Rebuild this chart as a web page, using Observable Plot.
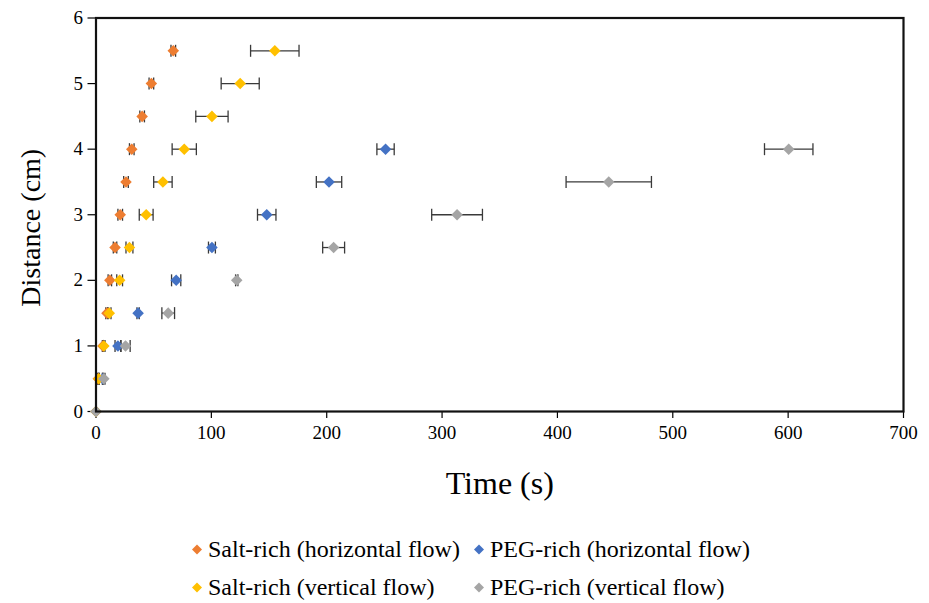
<!DOCTYPE html>
<html>
<head>
<meta charset="utf-8">
<script src="https://cdn.jsdelivr.net/npm/d3@7"></script>
<script src="https://cdn.jsdelivr.net/npm/@observablehq/plot@0.6"></script>
<style>
  html, body { margin: 0; padding: 0; background: #fff; }
  #wrap { position: relative; width: 929px; height: 603px; font-family: "Liberation Serif", "Times New Roman", serif; }
  #wrap svg text { font-family: "Liberation Serif", "Times New Roman", serif; }
  .legend { position: absolute; left: 0; top: 0; width: 929px; height: 603px; pointer-events: none; }
  .item { position: absolute; display: flex; align-items: center; font-size: 24px; color: #000; white-space: nowrap; transform: translateY(-50%); font-family: "Liberation Serif", "Times New Roman", serif; }
  .item svg { margin-right: 4px; }
</style>
</head>
<body>
<div id="wrap"></div>
<script>
// ---- Data ----
const seriesNames = [
  "Salt-rich (horizontal flow)",
  "PEG-rich (horizontal flow)",
  "Salt-rich (vertical flow)",
  "PEG-rich (vertical flow)"
];
const seriesColors = ["#ED7D31", "#4472C4", "#FFC000", "#A5A5A5"];

const saltHDistance = [0, 0.5, 1, 1.5, 2, 2.5, 3, 3.5, 4, 4.5, 5, 5.5];
const saltHTime     = [0, 2, 6, 9.5, 12, 16.5, 21, 26, 31, 40, 48, 67];
const saltHErr      = [0, 0.5, 0.5, 1, 1.5, 1.5, 2, 2, 2, 2, 2, 2];

const pegHDistance  = [0, 0.5, 1, 1.5, 2, 2.5, 3, 3.5, 4];
const pegHTime      = [0, 6, 19, 36.5, 69.5, 100.5, 148, 202, 251];
const pegHErr       = [0, 0.5, 2.5, 1, 4, 3, 8, 11, 7.5];

const saltVDistance = [0, 0.5, 1, 1.5, 2, 2.5, 3, 3.5, 4, 4.5, 5, 5.5];
const saltVTime     = [0, 2.4, 6.8, 11.5, 20.5, 29, 43.5, 58, 76.5, 100.5, 125, 155];
const saltVErr      = [0, 0.5, 1, 1.5, 2.5, 3, 6, 8, 10.5, 14, 16.5, 21];

const pegVDistance  = [0, 0.5, 1, 1.5, 2, 2.5, 3, 3.5, 4];
const pegVTime      = [0, 6.8, 25.6, 62.6, 122, 206, 313, 444.5, 600.5];
const pegVErr       = [0, 1, 4, 5.5, 1, 9.5, 22, 37, 21];

const xTicks = [0, 100, 200, 300, 400, 500, 600, 700];
const yTicks = [0, 1, 2, 3, 4, 5, 6];

// ---- Build table ----
const raw = [
  [saltHDistance, saltHTime, saltHErr],
  [pegHDistance, pegHTime, pegHErr],
  [saltVDistance, saltVTime, saltVErr],
  [pegVDistance, pegVTime, pegVErr]
];
const rows = [];
raw.forEach(([ds, ts, es], si) => {
  ds.forEach((d, i) => rows.push({series: seriesNames[si], order: si, distance: d, time: ts[i], err: es[i]}));
});
const errRows = rows.filter(r => r.err > 0);

// vertical cap symbol for error bars
const capSymbol = {
  draw(ctx, size) {
    const h = Math.sqrt(size / Math.PI);
    ctx.moveTo(0, -h);
    ctx.lineTo(0, h);
  }
};

const serif = "'Liberation Serif', 'Times New Roman', serif";

const chart = Plot.plot({
  width: 929,
  height: 520,
  marginLeft: 95.5,
  marginRight: 26,
  marginTop: 17.5,
  marginBottom: 109,
  style: {fontFamily: serif, fontSize: "19px", color: "#000", background: "#fff"},
  x: {domain: [0, 700]},
  y: {domain: [0, 6]},
  color: {domain: seriesNames, range: seriesColors},
  marks: [
    Plot.axisX({ticks: xTicks, tickFormat: "d", tickSize: 7, tickPadding: 7, label: null, stroke: "#000", strokeWidth: 1.2, fontSize: 19, fontFamily: serif}),
    Plot.axisY({ticks: yTicks, tickFormat: "d", tickSize: 8, tickPadding: 5, label: null, stroke: "#000", strokeWidth: 1.2, fontSize: 19, fontFamily: serif}),
    // error bars
    Plot.link(errRows, {x1: d => d.time - d.err, x2: d => d.time + d.err, y1: "distance", y2: "distance", stroke: "#3a3a3a", strokeWidth: 1.3}),
    Plot.dot(errRows, {x: d => d.time - d.err, y: "distance", symbol: capSymbol, r: 6, stroke: "#3a3a3a", strokeWidth: 1.3, fill: "none"}),
    Plot.dot(errRows, {x: d => d.time + d.err, y: "distance", symbol: capSymbol, r: 6, stroke: "#3a3a3a", strokeWidth: 1.3, fill: "none"}),
    // markers
    Plot.dot(rows, {x: "time", y: "distance", fill: "series", symbol: "diamond2", r: 5.2, stroke: null}),
    Plot.frame({stroke: "#111", strokeWidth: 2.2}),
    Plot.text(["Time (s)"], {frameAnchor: "bottom", dy: 72, fontSize: 32, fontFamily: serif, textAnchor: "middle", lineAnchor: "middle", fill: "#000"}),
    Plot.text(["Distance (cm)"], {frameAnchor: "left", dx: -65, dy: 13, rotate: -90, fontSize: 28, fontFamily: serif, textAnchor: "middle", lineAnchor: "middle", fill: "#000"})
  ]
});

const wrap = document.getElementById("wrap");
wrap.appendChild(chart);

// ---- Legend (HTML, below the SVG) ----
const legend = document.createElement("div");
legend.className = "legend";
const legendPos = [
  {left: 190, top: 549},
  {left: 472, top: 549},
  {left: 190, top: 587},
  {left: 472, top: 587}
];
seriesNames.forEach((name, i) => {
  const item = document.createElement("div");
  item.className = "item";
  item.style.left = legendPos[i].left + "px";
  item.style.top = legendPos[i].top + "px";
  item.innerHTML = `<svg width="14" height="14" viewBox="-7 -7 14 14"><path d="M0,-5L5,0L0,5L-5,0Z" fill="${seriesColors[i]}"/></svg><span>${name}</span>`;
  legend.appendChild(item);
});
wrap.appendChild(legend);
</script>
</body>
</html>
